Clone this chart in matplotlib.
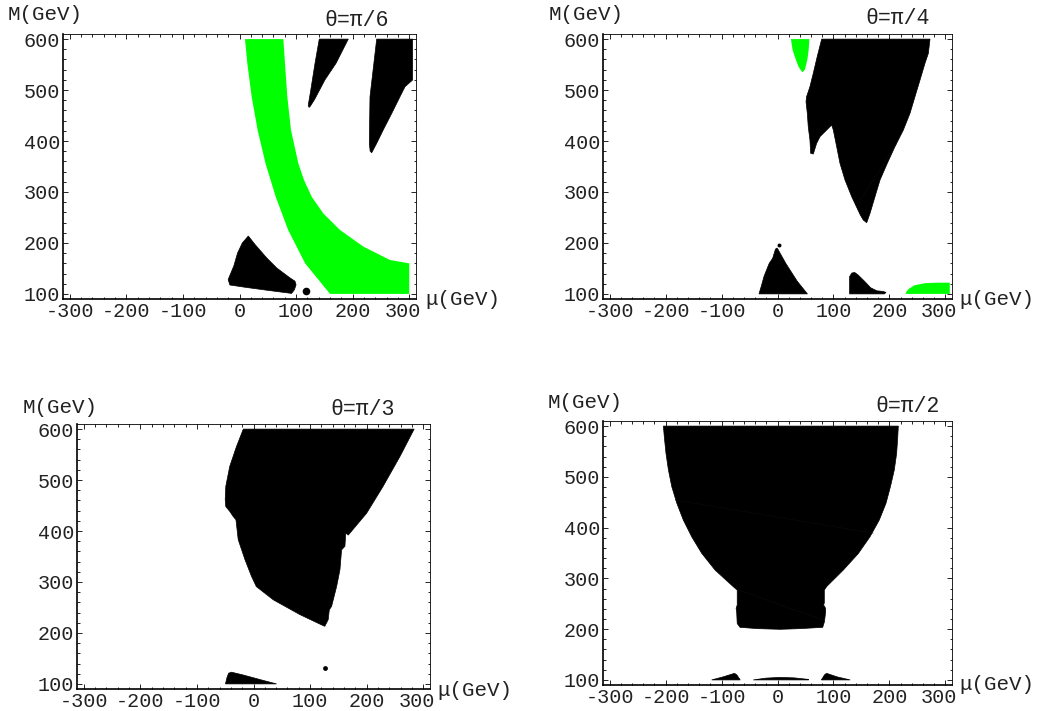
import matplotlib
matplotlib.use("Agg")
import matplotlib.pyplot as plt
import matplotlib.transforms as mtransforms
import numpy as np

plt.rcParams['font.family'] = ['Liberation Mono', 'DejaVu Sans Mono']

# Colors
green = "#00ff00"
black = "#000000"
seam = "#101010"

# Axis ticks
xticks = [-300, -200, -100, 0, 100, 200, 300]
xticklabels = ["-300", "-200", "-100", "0", "100", "200", "300"]
yticks = [100, 200, 300, 400, 500, 600]
yticklabels = ["100", "200", "300", "400", "500", "600"]

titles = ["θ=π/6", "θ=π/4", "θ=π/3", "θ=π/2"]

# ---- theta = pi/6 ----
p1_green = [(9.7, 600), (13.8, 552.5), (21.5, 487), (32, 421.6), (46, 356), (64, 290.7),
            (86, 225.4), (116, 160), (160, 100), (300, 100), (300, 160), (266, 166.5),
            (242.5, 179.6), (219, 192.7), (177.7, 225.4), (148, 258), (127.6, 290.7),
            (114, 323.5), (104, 356), (91, 421.6), (84.5, 487), (80.4, 552.5), (77.5, 600)]
p1_black = [
    [(141, 600), (192.3, 600), (170.6, 552.5), (151, 520), (133, 482), (125, 468),
     (122.9, 466), (121.5, 470), (126, 500), (133.5, 552.5)],
    [(242.5, 600), (306, 600), (306, 519.7), (292.6, 506.6), (283.7, 487), (269, 454),
     (254, 421.6), (242.5, 395.5), (233.7, 377), (231, 380), (229.5, 395.5), (230.7, 487)],
    [(15.6, 213.6), (27.4, 197), (48, 170.7), (65.7, 151), (89, 131.6), (98, 125), (100, 118),
     (97, 108), (92, 101), (50, 107), (10, 113), (-17, 117.5), (-20, 128), (-19, 131),
     (-10, 155), (-3.5, 180), (5, 200)],
]
p1_dots = [(117.5, 106)]
p1_seams = []

# ---- theta = pi/4 ----
p2_green = [
    [(24, 600), (27, 578.6), (33, 559), (38, 545), (44.4, 534.8), (49, 540), (53.3, 559),
     (55.7, 578.6), (57, 600)],
    [(228.8, 100), (230.8, 105), (234.9, 110), (245.1, 117), (263.4, 121), (284.8, 122),
     (308, 122), (308, 100)],
]
p2_black = [
    [(79, 600), (272.7, 600), (269.7, 572), (263.7, 552.5), (254.8, 519.7), (245.8, 487),
     (236.9, 454.4), (225, 421.6), (210, 389), (196.3, 356.3), (183.3, 323.5), (174.3, 290.7),
     (165.4, 258), (159.5, 239.7), (153.4, 245), (148, 255), (132.7, 290.7), (120.7, 323.5),
     (111.7, 356.3), (105.8, 389), (99.8, 421.6), (96.9, 431.4), (76, 408.6), (70, 395.5),
     (64, 374.5), (59.3, 375.8), (58, 402), (55, 428), (53.3, 454.4), (51, 477), (52, 487),
     (58, 506.6), (64, 533), (71, 565.5)],
    [(-33.1, 100), (53.5, 100), (35.2, 125), (14.8, 160), (-0.5, 190), (-3.6, 188),
     (-8.6, 170), (-14.8, 160), (-23.9, 135), (-29, 115)],
    [(128.9, 100), (128.9, 134), (133, 141), (138.1, 142), (144.2, 137), (155.4, 125),
     (166.6, 112), (177.8, 106), (188, 105), (194.1, 103), (191.1, 100)],
]
p2_dots = [(3.1, 195)]
p2_seams = [[(144.5, 277.8), (213, 395.5)]]

# ---- theta = pi/3 ----
p3_black = [
    [(-18, 600), (284, 600), (259, 546.5), (229, 487.5), (200, 435), (167.5, 392), (163, 396),
     (161.6, 370), (155.7, 363), (152.8, 324), (146.9, 291), (138, 252), (134, 245.6),
     (132, 226), (126, 213), (120, 216), (82, 236), (35, 265), (5, 291), (-3.5, 311),
     (-15, 343.6), (-27, 383), (-31, 422), (-36, 428.6), (-42, 438.6), (-49, 448),
     (-50, 461.5), (-49, 487.5), (-42, 526.8), (-30, 566)],
    [(-49.5, 100), (40.7, 100), (20, 106), (0, 112), (-20, 118), (-39, 123), (-44, 121), (-47, 112)],
]
p3_dots = [(126, 131)]
p3_seams = []

# ---- theta = pi/2 ----
p4_black = [
    [(-204, 600), (216, 600), (215, 579), (213, 546), (208.8, 513.5), (202, 481), (194, 448),
     (182, 415), (165.4, 382), (144.5, 349), (117.7, 316.5), (88, 284), (83.7, 277),
     (83.7, 252), (82.5, 247.6), (86, 241), (86, 234), (84, 215), (80.8, 203.6), (40, 201),
     (4.5, 199.7), (-35, 201), (-67, 203.6), (-72, 211), (-73, 234), (-74, 241), (-72, 247.6),
     (-72, 277), (-79, 283.6), (-111.7, 316.5), (-135.5, 349.4), (-153.4, 382), (-168.4, 415),
     (-180, 448), (-189, 480.6), (-195, 513.5), (-199.4, 546.4), (-202.4, 579)],
    [(-117.7, 100), (-97.3, 106), (-76.9, 113), (-72.8, 110), (-66.7, 100)],
    [(-43.3, 100), (-20.9, 103.5), (4.6, 105), (30.1, 104), (55.6, 101), (55.6, 100)],
    [(78.4, 100), (84.1, 110), (87.7, 113), (106.5, 106), (129.9, 100)],
]
p4_dots = []
p4_seams = [[(-183, 454.4), (171.3, 389)], [(-70, 277), (82, 218)]]

panels = [
    ([p1_green], p1_black, p1_dots, p1_seams),
    (p2_green, p2_black, p2_dots, p2_seams),
    ([], p3_black, p3_dots, p3_seams),
    ([], p4_black, p4_dots, p4_seams),
]
dot_sizes = [30, 8, 12, 0]

W, H = 1049, 711
# axes boxes in pixels: left, right, top, bottom
boxes = [(63, 416, 34, 299), (603, 952, 34, 299), (77, 430, 424, 689), (603, 952, 421, 685)]
# label positions in pixels
m_pos = [(8, 15), (549, 15), (23, 407), (548, 402)]
t_pos = [(357, 20), (898, 19), (363, 409), (908, 406)]
mu_pos = [(425, 300), (959, 300), (437, 690), (959, 685)]

fig = plt.figure(figsize=(W / 100, H / 100), dpi=100)

for i, (greens, blacks, dots, seams) in enumerate(panels):
    l, r, t, b = boxes[i]
    ax = fig.add_axes([l / W, 1 - b / H, (r - l) / W, (b - t) / H])
    for poly in greens:
        xs, ys = zip(*poly)
        ax.fill(xs, ys, color=green, lw=0)
    for poly in blacks:
        xs, ys = zip(*poly)
        ax.fill(xs, ys, color=black, lw=0.5, ec=black)
    # faint seams between adjacent black patches
    for seg in seams:
        xs, ys = zip(*seg)
        ax.plot(xs, ys, color=seam, lw=0.3)
    for (dx, dy) in dots:
        ax.scatter([dx], [dy], s=dot_sizes[i], color=black, lw=0)

    ax.set_xlim(-312, 312)
    ax.set_ylim(90, 610)
    ax.set_xticks(xticks, labels=xticklabels)
    ax.set_yticks(yticks, labels=yticklabels)
    ax.set_xticks(np.arange(-300, 301, 20), minor=True)
    ax.set_yticks(np.arange(100, 601, 20), minor=True)
    ax.tick_params(which='both', direction='in', top=True, right=True, width=0.6,
                   labelsize=14.5, labelcolor='#222222', pad=2)
    ax.tick_params(which='major', length=3.5)
    ax.tick_params(which='minor', length=1.8)
    for side in ['left', 'bottom']:
        ax.spines[side].set_linewidth(1.2)
    for side in ['top', 'right']:
        ax.spines[side].set_linewidth(0.6)

    # nudge the last x tick label left, as in the reference
    last = ax.get_xticklabels()[-1]
    last.set_transform(last.get_transform() +
                       mtransforms.ScaledTranslation(-6 / 100, 0, fig.dpi_scale_trans))

    fig.text(m_pos[i][0] / W, 1 - m_pos[i][1] / H, "M(GeV)", fontsize=15,
             ha='left', va='center', color='#222222')
    fig.text(t_pos[i][0] / W, 1 - t_pos[i][1] / H, titles[i], fontsize=15.5,
             ha='center', va='center', color='#222222')
    fig.text(mu_pos[i][0] / W, 1 - mu_pos[i][1] / H, "μ(GeV)", fontsize=15,
             ha='left', va='center', color='#222222')

plt.savefig("out.png", dpi=100)
print("Plot saved.")
